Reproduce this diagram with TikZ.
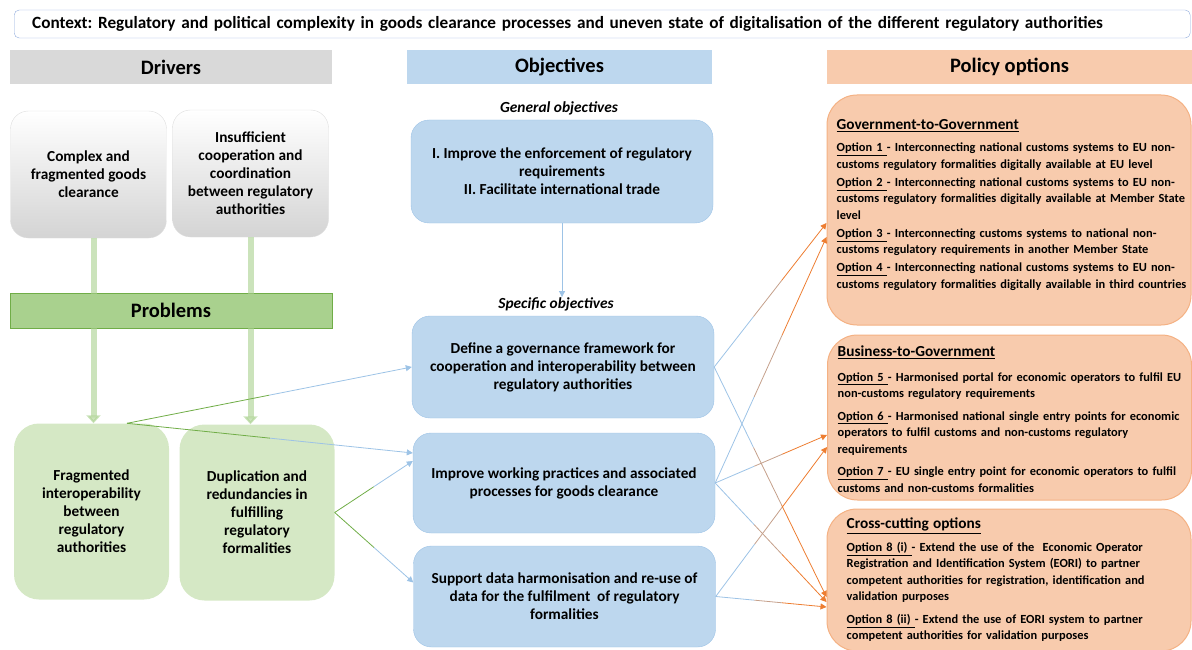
\documentclass[tikz,border=0pt]{standalone}
\usepackage{fontspec}
\setmainfont{Carlito}
\usetikzlibrary{arrows.meta,calc}
\definecolor{ctxline}{RGB}{143,170,220}
\definecolor{hdrgray}{RGB}{217,217,217}
\definecolor{drvline}{RGB}{222,222,222}
\definecolor{drvbottom}{RGB}{212,212,212}
\definecolor{objfill}{RGB}{189,215,238}
\definecolor{objline}{RGB}{157,195,230}
\definecolor{polfill}{RGB}{248,203,173}
\definecolor{polline}{RGB}{244,177,131}
\definecolor{probbar}{RGB}{169,209,142}
\definecolor{probline}{RGB}{112,173,71}
\definecolor{probfill}{RGB}{213,232,197}
\definecolor{arrorange}{RGB}{237,125,49}
\definecolor{arrblue}{RGB}{157,195,230}
\definecolor{arrgreen}{RGB}{112,173,71}
\begin{document}
\frenchspacing
\begin{tikzpicture}[x=1pt,y=-1pt,
  every node/.style={font=\bfseries\fontsize{15.3}{18}\selectfont, align=center, inner sep=0pt},
  header/.style={minimum width=#1, minimum height=34pt, font=\bfseries\fontsize{20.5}{22}\selectfont},
  drvbox/.style={draw=drvline, rounded corners=18pt, top color=white, middle color=white, bottom color=drvbottom, minimum width=156pt, minimum height=127pt},
  probbox/.style={fill=probfill, rounded corners=25pt, minimum width=155pt, minimum height=176pt},
  objbox/.style={draw=objline, fill=objfill, rounded corners=18pt, minimum width=302pt, minimum height=#1},
  objlabel/.style={font=\bfseries\itshape\fontsize{15.4}{17}\selectfont},
  polbox/.style={draw=polline, fill=polfill, line width=1pt, rounded corners=30pt, minimum width=364pt, minimum height=#1},
  poltext/.style={anchor=west, align=left, text width=372pt, font=\bfseries\fontsize{12.4}{16.5}\selectfont},
  fat/.style={probbar, opacity=0.6, line width=6pt, -{Triangle[width=14pt,length=8pt]}},
  tip/.style={line width=0.8pt, -{Triangle[width=6pt,length=6pt]}}
]
\useasboundingbox (0,0) rectangle (1192,650);

\node[draw=ctxline, rounded corners=5pt, minimum width=1176pt, minimum height=28pt, anchor=west, align=left, inner xsep=18pt, text width=1140pt, font=\bfseries\fontsize{17.2}{19}\selectfont] (ctx) at (14,24) {Context: Regulatory and political complexity in goods clearance processes and uneven state of digitalisation of the different regulatory authorities};

\node[header=322pt, fill=hdrgray] (drvhdr) at (171,67) {Drivers};
\node[header=305pt, fill=objfill] (objhdr) at (559.5,67) {Objectives};
\node[header=365pt, fill=polfill] (polhdr) at (1009.5,67) {Policy options};

\node[drvbox] (drvA) at (88.5,174.5) {Complex and\\fragmented goods\\clearance};
\node[drvbox] (drvB) at (250.5,173.5) {Insufficient\\cooperation and\\coordination\\between regulatory\\authorities};

\node[header=322pt, minimum height=35pt, fill=probbar, draw=probline] (probhdr) at (171,310.5) {Problems};
\node[probbox] (frag) at (91.5,511.5) {Fragmented\\interoperability\\between\\regulatory\\authorities};
\node[probbox] (dup) at (257,512.5) {Duplication and\\redundancies in\\fulfilling\\regulatory\\formalities};

\node[objlabel] (genlbl) at (559,108) {General objectives};
\node[objbox=103pt] (gen) at (562,171.5) {I. Improve the enforcement of regulatory\\requirements\\II. Facilitate international trade};
\node[objlabel] (speclbl) at (556,304) {Specific objectives};
\node[objbox=102pt] (spec1) at (563,367) {Define a governance framework for\\cooperation and interoperability between\\regulatory authorities};
\node[objbox=100pt] (spec2) at (564,483) {Improve working practices and associated\\processes for goods clearance};
\node[objbox=101pt] (spec3) at (564.5,596.5) {Support data harmonisation and re-use of\\data for the fulfilment\ \ of regulatory\\formalities};

\node[polbox=230pt] (g2g) at (1009,210) {};
\node[polbox=165pt] (b2g) at (1009.5,417.5) {};
\node[polbox=142pt] (cross) at (1009,580) {};

\node[poltext] (g2gtxt) at ([xshift=10pt,yshift=5pt]g2g.west) {{\fontsize{15.3}{18}\selectfont\underline{Government-to-Government}}\\[6pt]
\underline{Option 1 }- Interconnecting national customs systems to EU non-\\customs regulatory formalities digitally available at EU level\\[1.5pt]
\underline{Option 2 }- Interconnecting national customs systems to EU non-\\customs regulatory formalities digitally available at Member State\\level\\[1.5pt]
\underline{Option 3 }- Interconnecting customs systems to national non-\\customs regulatory requirements in another Member State\\[1.5pt]
\underline{Option 4 }- Interconnecting national customs systems to EU non-\\customs regulatory formalities digitally available in third countries};
\node[poltext] (b2gtxt) at ([xshift=10.5pt,yshift=-1.5pt]b2g.west) {{\fontsize{15.3}{18}\selectfont\underline{Business-to-Government}}\\[8pt]
\underline{Option 5 }- Harmonised portal for economic operators to fulfil EU\\non-customs regulatory requirements\\[6pt]
\underline{Option 6 }- Harmonised national single entry points for economic\\operators to fulfil customs and non-customs regulatory\\requirements\\[6pt]
\underline{Option 7 }- EU single entry point for economic operators to fulfil\\customs and non-customs formalities};
\node[poltext] (crosstxt) at ([xshift=20pt]cross.west) {{\fontsize{15.3}{18}\selectfont\underline{Cross-cutting options}}\\[6pt]
\underline{Option 8 (i) }- Extend the use of the\ \ Economic Operator\\Registration and Identification System (EORI) to partner\\competent authorities for registration, identification and\\validation purposes\\[6pt]
\underline{Option 8 (ii) }- Extend the use of EORI system to partner\\competent authorities for validation purposes};

\draw[fat] ([xshift=5pt]drvA.south) -- ([xshift=5pt]drvA.south |- frag.north);
\draw[fat] (drvB.south) -- (drvB.south |- dup.north);

\draw[arrblue, tip] (gen.south) -- (gen.south |- speclbl.north);

\coordinate (fragout) at ([xshift=35.5pt]frag.north);
\coordinate (spec1in) at (spec1.west);
\coordinate (spec2inA) at ([yshift=30pt]spec2.west);
\coordinate (spec2inB) at ([yshift=22pt]spec2.west);
\coordinate (spec3in) at ([yshift=14pt]spec3.west);
\foreach \s/\t in {fragout/spec1in, fragout/spec2inA, dup.east/spec2inB, dup.east/spec3in}{
  \draw[arrgreen, line width=0.8pt] (\s) -- ($(\s)!0.5!(\t)$);
  \draw[arrblue, tip] ($(\s)!0.5!(\t)$) -- (\t);
}

\coordinate (g2gA) at ([yshift=-13pt]g2g.west);
\coordinate (g2gB) at ([yshift=-27pt]g2g.west);
\coordinate (b2gA) at ([yshift=-17.5pt]b2g.west);
\coordinate (b2gB) at ([yshift=-29.5pt]b2g.west);
\coordinate (crossA) at ([yshift=-17pt]cross.west);
\coordinate (crossB) at ([yshift=-22pt]cross.west);
\coordinate (crossC) at ([yshift=-27pt]cross.west);
\foreach \s/\t in {spec1/g2gA, spec2/g2gB, spec2/b2gA, spec3/b2gB, spec1/crossA, spec2/crossB, spec3/crossC}{
  \draw[arrblue, line width=0.8pt] (\s.east) -- ($(\s.east)!0.35!(\t)$);
  \draw[arrblue!50!arrorange, line width=0.8pt] ($(\s.east)!0.35!(\t)$) -- ($(\s.east)!0.6!(\t)$);
  \draw[arrorange, tip] ($(\s.east)!0.6!(\t)$) -- (\t);
}
\end{tikzpicture}
\end{document}
